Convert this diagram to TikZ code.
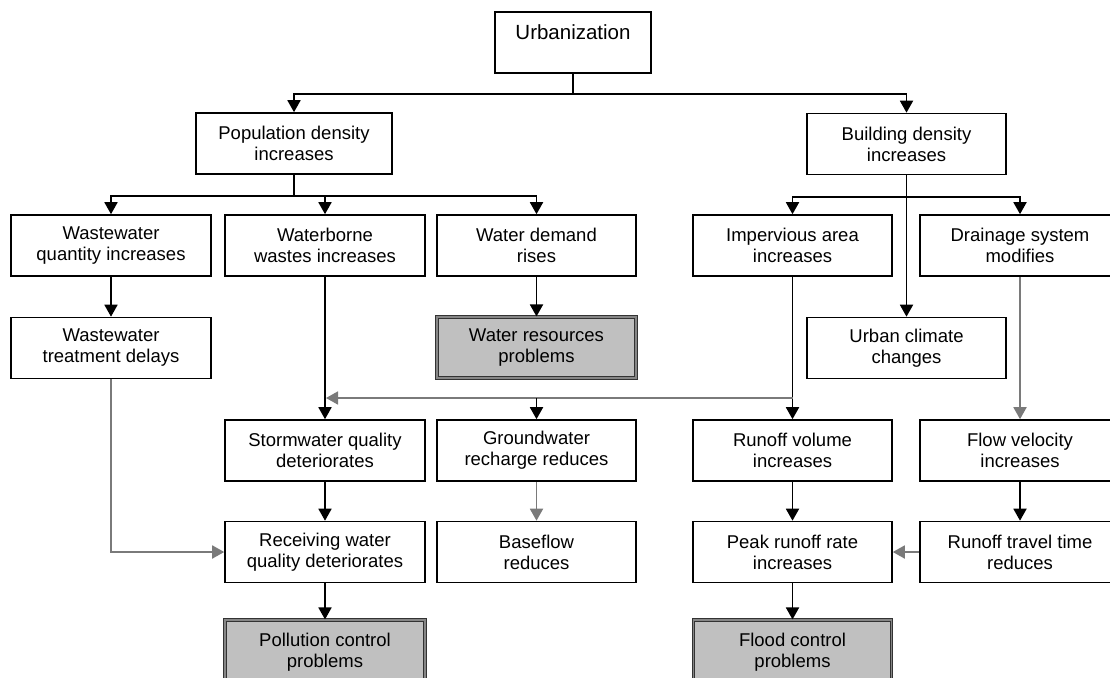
\documentclass[tikz,border=0pt]{standalone}
\usepackage{fontspec}
\setmainfont{Liberation Sans}
\usetikzlibrary{arrows.meta}
\definecolor{probfill}{HTML}{C0C0C0}
\definecolor{lgray}{HTML}{7A7A7A}
\begin{document}
\begin{tikzpicture}[x=1pt,y=-1pt,
  box/.style={draw=black, line width=1.6pt, fill=white, minimum height=61pt, minimum width=200pt,
    align=center, inner sep=0pt, font=\fontsize{18.5}{21}\selectfont},
  prob/.style={box, draw=black!80, line width=1.1pt, double=probfill!70!black, double distance=1.6pt,
    fill=probfill, minimum width=199pt, minimum height=61pt},
  arr/.style={-{Triangle[width=13pt,length=12pt]}, line width=1.8pt, draw=black},
  garr/.style={arr, draw=lgray}]
\useasboundingbox (0,0) rectangle (1110,677);
\clip (0,0) rectangle (1110,677);
\fill[white] (0,0) rectangle (1110,677);

% nodes
\node[box, minimum width=156pt, text depth=20pt, font=\fontsize{20.5}{23}\selectfont] (urb) at (573,42.5) {Urbanization};
\node[box, minimum width=196pt] (pop) at (294,143.5) {Population density\\increases};
\node[box, minimum width=199pt] (bld) at (906.5,144) {Building density\\increases};

\node[box] (wq) at (111,245.5) {Wastewater\\quantity increases};
\node[box] (wb) at (325,245.5) {Waterborne\\wastes increases};
\node[box, minimum width=199pt] (wd) at (536.5,245.5) {Water demand\\rises};
\node[box, minimum width=199pt] (imp) at (792.5,245.5) {Impervious area\\increases};
\node[box] (dr) at (1020,245.5) {Drainage system\\modifies};

\node[box] (td) at (111,348) {Wastewater\\treatment delays};
\node[prob] (wr) at (536.5,347.5) {Water resources\\problems};
\node[box, minimum width=199pt] (uc) at (906.5,348) {Urban climate\\changes};

\node[box] (sq) at (325,450.5) {Stormwater quality\\deteriorates};
\node[box, minimum width=199pt] (gw) at (536.5,450.5) {Groundwater\\recharge reduces};
\node[box, minimum width=199pt] (rv) at (792.5,450.5) {Runoff volume\\increases};
\node[box] (fv) at (1020,450.5) {Flow velocity\\increases};

\node[box] (rw) at (325,552) {Receiving water\\quality deteriorates};
\node[box, minimum width=199pt] (bf) at (536.5,552) {Baseflow\\reduces};
\node[box, minimum width=199pt] (pr) at (792.5,552) {Peak runoff rate\\increases};
\node[box] (rt) at (1020,552) {Runoff travel time\\reduces};

\node[prob, minimum width=200pt, minimum height=64pt] (pc) at (325,652) {Pollution control\\problems};
\node[prob, minimum width=198pt, minimum height=64pt] (fc) at (792.5,652) {Flood control\\problems};

% connectors
\draw[arr] (urb.south) -- ++(0,20) -| (pop.north);
\draw[arr] (urb.south) -- ++(0,20) -| (bld.north);

\draw[arr] (pop.south) -- ++(0,21) -| (wq.north);
\draw[arr] (pop.south) -- ++(0,21) -| (wb.north);
\draw[arr] (pop.south) -- ++(0,21) -| (wd.north);

\draw[arr] (bld.south) -- ++(0,21.5) -| (imp.north);
\draw[arr] (bld.south) -- ++(0,21.5) -| (dr.north);
\draw[arr] (bld.south) -- (uc.north);

\draw[arr] (wq.south) -- (td.north);
\draw[arr] (wd.south) -- (wr.north);

\coordinate (hj) at (792.5,398);
\draw[arr] (wb.south) -- (sq.north);
\draw[arr] (imp.south) -- (rv.north);
\draw[garr] (hj) -- ([xshift=1pt]wb.south |- hj);
\draw[arr] (gw.north |- hj) -- (gw.north);

\draw[garr] (dr.south) -- (fv.north);
\draw[garr] (td.south) |- (rw.west);

\draw[arr] (sq.south) -- (rw.north);
\draw[arr] (rw.south) -- (pc.north);
\draw[garr] (gw.south) -- (bf.north);
\draw[arr] (rv.south) -- (pr.north);
\draw[arr] (pr.south) -- (fc.north);
\draw[arr] (fv.south) -- (rt.north);
\draw[garr] (rt.west) -- (pr.east);
\end{tikzpicture}
\end{document}
